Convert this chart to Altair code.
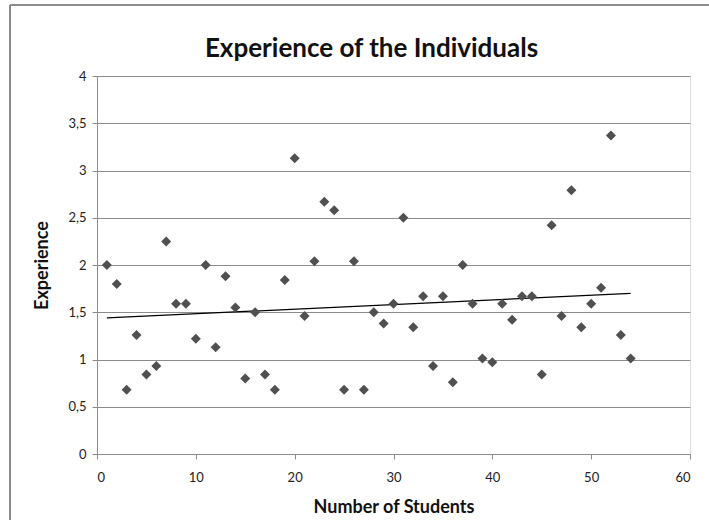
import altair as alt
import pandas as pd

# Students numbered 1..54 and their experience (years)
students = list(range(1, 55))
experience = [
    2.00, 1.80, 0.68, 1.26, 0.84, 0.93, 2.25, 1.59, 1.59, 1.22,
    2.00, 1.13, 1.88, 1.55, 0.80, 1.50, 0.84, 0.68, 1.84, 3.13,
    1.46, 2.04, 2.67, 2.58, 0.68, 2.04, 0.68, 1.50, 1.38, 1.59,
    2.50, 1.34, 1.67, 0.93, 1.67, 0.76, 2.00, 1.59, 1.01, 0.97,
    1.59, 1.42, 1.67, 1.67, 0.84, 2.42, 1.46, 2.79, 1.34, 1.59,
    1.76, 3.37, 1.26, 1.01,
]
x_ticks = [0, 10, 20, 30, 40, 50, 60]
y_ticks = [0, 0.5, 1, 1.5, 2, 2.5, 3, 3.5, 4]

df = pd.DataFrame({"student": students, "experience": experience})

FONT = "Lato"
GRAY = "#8c8c8c"
comma_label = "replace(format(datum.value, '~g'), '.', ',')"

x_enc = alt.X(
    "student:Q",
    scale=alt.Scale(domain=[0, 60], nice=False, zero=True),
    axis=alt.Axis(
        values=x_ticks, title="Number of Students", grid=False,
        domainColor=GRAY, tickColor=GRAY, tickSize=5,
        labelFont=FONT, labelFontSize=13, labelColor="#222", labelPadding=12,
        titleFont=FONT, titleFontSize=18, titleFontWeight="bold",
        titleColor="#111", titlePadding=14,
    ),
)
y_enc = alt.Y(
    "experience:Q",
    scale=alt.Scale(domain=[0, 4], nice=False),
    axis=alt.Axis(
        values=y_ticks, title="Experience", labelExpr=comma_label,
        grid=True, gridColor=GRAY, domainColor=GRAY, tickColor=GRAY, tickSize=5,
        labelFont=FONT, labelFontSize=13, labelColor="#222", labelPadding=6,
        titleFont=FONT, titleFontSize=18, titleFontWeight="bold",
        titleColor="#111", titlePadding=16,
    ),
)

base = alt.Chart(df)

points = base.mark_point(
    shape="diamond", filled=True, size=100, color="#505050", opacity=1
).encode(x=x_enc, y=y_enc)

trend = base.transform_regression(
    "student", "experience", method="linear"
).mark_line(color="#000000", strokeWidth=1.2).encode(
    x="student:Q", y="experience:Q"
)

# outer chart frame (left and top edges)
frame_left = alt.Chart(df).mark_rule(color=GRAY, strokeWidth=1.5, clip=False).encode(
    x=alt.value(-87), y=alt.value(-71), y2=alt.value(520)
)
frame_top = alt.Chart(df).mark_rule(color=GRAY, strokeWidth=1.5, clip=False).encode(
    x=alt.value(-87), x2=alt.value(700), y=alt.value(-71)
)

chart = (
    alt.layer(frame_left, frame_top, trend, points)
    .properties(
        width=593,
        height=378,
        title=alt.TitleParams(
            "Experience of the Individuals",
            font=FONT, fontSize=26, fontWeight="bold", color="#111",
            anchor="middle", baseline="alphabetic", dx=-22, dy=93, offset=14,
        ),
        autosize=alt.AutoSizeParams(type="none"),
        padding={"left": 97, "top": 76, "right": 19, "bottom": 66},
    )
    .configure_view(stroke=None)
    .configure(background="white")
)

chart.save("out.html", embed_options={"renderer": "svg", "actions": False})
